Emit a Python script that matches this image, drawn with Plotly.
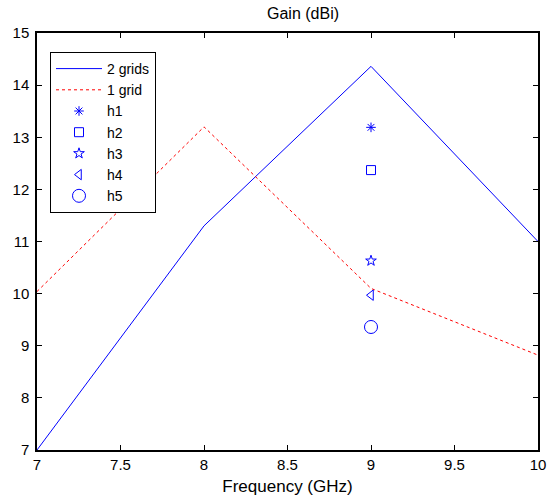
import plotly.graph_objects as go

freq = [7, 8, 9, 10]
grids2 = [7.0, 11.3, 14.36, 11.0]
grid1 = [10.04, 13.2, 10.1, 8.82]

h_x = [9]
h1 = [13.19]
h2 = [12.37]
h3 = [10.63]
h4 = [9.97]
h5 = [9.36]

fig = go.Figure()
fig.add_trace(go.Scatter(x=freq, y=grids2, mode="lines", name="2 grids",
                         line=dict(color="#0000ff", width=1)))
fig.add_trace(go.Scatter(x=freq, y=grid1, mode="lines", name="1 grid",
                         line=dict(color="#ff0000", width=1, dash="dot")))
markers = [("h1", h1, "asterisk-open", 8),
           ("h2", h2, "square-open", 9),
           ("h3", h3, "star-open", 8),
           ("h4", h4, "triangle-left-open", 9),
           ("h5", h5, "circle-open", 13)]
for name, vals, sym, sz in markers:
    fig.add_trace(go.Scatter(x=h_x, y=vals, mode="markers", name=name,
                             marker=dict(symbol=sym, size=sz, color="#0000ff",
                                         line=dict(color="#0000ff", width=1))))

FONT = "Liberation Sans, Arial"
axis_common = dict(showline=True, linecolor="black", linewidth=1.5, mirror="ticks",
                   ticks="inside", ticklen=5, tickcolor="black", showgrid=False,
                   zeroline=False, automargin=False,
                   tickfont=dict(family=FONT, size=15, color="black"))

fig.update_layout(
    template="none",
    width=549, height=501,
    margin=dict(l=37, r=11, t=33, b=51),
    paper_bgcolor="white", plot_bgcolor="white",
    font=dict(family=FONT, size=15, color="black"),
    title=dict(text="Gain (dBi)", x=(303 - 37) / 501, xref="paper", y=1 - 13 / 501, yref="container",
               xanchor="center", yanchor="middle", font=dict(size=16, color="black")),
    xaxis=dict(range=[7, 10], dtick=0.5, tick0=7,
               title=dict(text="Frequency (GHz)", font=dict(size=17), standoff=8),
               **axis_common),
    yaxis=dict(range=[7, 15], dtick=1, tick0=7, ticklabelstandoff=3, **axis_common),
    legend=dict(x=(50 - 37) / 501, y=(450 - 52) / 417, xanchor="left", yanchor="top",
                bordercolor="black", borderwidth=1, bgcolor="white",
                font=dict(size=14), itemwidth=46, tracegroupgap=0),
    showlegend=True,
)

fig.write_html("out.html")
